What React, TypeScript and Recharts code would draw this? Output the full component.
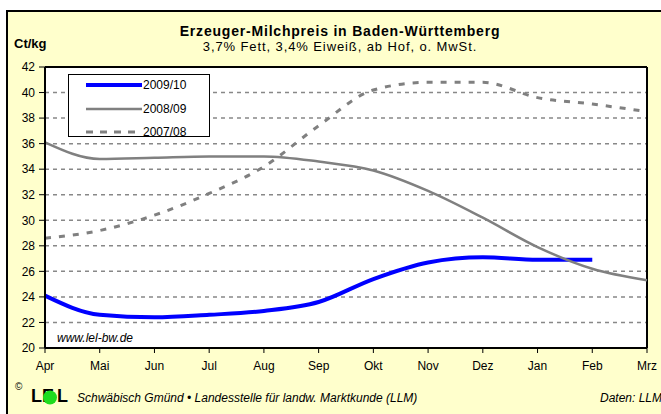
import React from "react";
import { LineChart, Line, XAxis, YAxis, CartesianGrid, ReferenceLine } from "recharts";

const months = ["Apr", "Mai", "Jun", "Jul", "Aug", "Sep", "Okt", "Nov", "Dez", "Jan", "Feb", "Mrz"];
const s2009_10 = [24.1, 22.6, 22.4, 22.6, 22.9, 23.6, 25.4, 26.7, 27.1, 26.9, 26.9, null];
const s2008_09 = [36.1, 34.8, 34.9, 35.0, 35.0, 34.6, 33.9, 32.3, 30.2, 27.9, 26.2, 25.3];
const s2007_08 = [28.6, 29.2, 30.4, 32.1, 34.2, 37.4, 40.2, 40.8, 40.8, 39.6, 39.1, 38.5];
const yTicks = [20, 22, 24, 26, 28, 30, 32, 34, 36, 38, 40, 42];

const data = months.map((m, i) => ({
  m,
  a: s2009_10[i],
  b: s2008_09[i],
  c: s2007_08[i],
}));

const series = [
  { key: "a", name: "2009/10", color: "#0000FF", width: 4, dash: undefined as string | undefined },
  { key: "b", name: "2008/09", color: "#808080", width: 2.5, dash: undefined as string | undefined },
  { key: "c", name: "2007/08", color: "#808080", width: 3, dash: "6 8" },
];

const FONT = "'Liberation Sans', Arial, sans-serif";

export default function App() {
  return (
    <div
      style={{
        position: "absolute",
        left: 0,
        top: 0,
        width: 661,
        height: 414,
        overflow: "hidden",
        background: "#fff",
        fontFamily: FONT,
      }}
    >
      <div
        style={{
          position: "absolute",
          left: 6,
          top: 10,
          width: 700,
          height: 500,
          border: "2px solid #000",
          background: "#FFFFCC",
        }}
      />
      <div style={{ position: "absolute", left: 0, top: 0 }}>
        <LineChart width={661} height={414} data={data} margin={{ top: 67, right: 14, bottom: 36, left: 0 }}>
          <CartesianGrid vertical={false} stroke="#888" strokeWidth={1.5} strokeDasharray="4 4" fill="#fff" />
          <XAxis
            dataKey="m"
            height={30}
            axisLine={{ stroke: "#000", strokeWidth: 2 }}
            tickLine={{ stroke: "#000", strokeWidth: 1 }}
            tickSize={5}
            tickMargin={8}
            tick={{ fill: "#000", fontSize: 12, fontFamily: FONT }}
            interval={0}
          />
          <YAxis
            width={45}
            domain={[20, 42]}
            ticks={yTicks}
            interval={0}
            axisLine={{ stroke: "#000", strokeWidth: 2 }}
            tickLine={{ stroke: "#000", strokeWidth: 1 }}
            tickSize={6}
            tickMargin={4}
            tick={{ fill: "#000", fontSize: 12, fontFamily: FONT }}
          />
          <ReferenceLine y={42} stroke="#000" strokeWidth={2} />
          <ReferenceLine x="Mrz" stroke="#000" strokeWidth={2} />
          {series.map((s) => (
            <Line
              key={s.key}
              dataKey={s.key}
              name={s.name}
              type="monotone"
              stroke={s.color}
              strokeWidth={s.width}
              strokeDasharray={s.dash}
              dot={false}
              activeDot={false}
              connectNulls={false}
              isAnimationActive={false}
            />
          ))}
        </LineChart>
      </div>

      {/* Legend */}
      <div
        style={{
          position: "absolute",
          left: 68,
          top: 74,
          width: 140,
          height: 61,
          border: "1px solid #000",
          background: "#fff",
        }}
      >
        {series.map((s, i) => (
          <div
            key={s.key}
            style={{ position: "absolute", left: 0, top: 1 + i * 23.5, height: 18, width: 140 }}
          >
            <svg width={60} height={18} style={{ position: "absolute", left: 16, top: 0 }}>
              <line
                x1={1}
                y1={9}
                x2={57}
                y2={9}
                stroke={s.color}
                strokeWidth={s.width}
                strokeDasharray={s.dash ? "7 7" : undefined}
              />
            </svg>
            <span
              style={{
                position: "absolute",
                left: 74,
                top: 1,
                fontSize: 12,
                lineHeight: "16px",
                color: "#000",
              }}
            >
              {s.name}
            </span>
          </div>
        ))}
      </div>

      {/* Titles */}
      <div
        style={{
          position: "absolute",
          left: 0,
          width: 680,
          top: 23,
          textAlign: "center",
          fontSize: 14,
          fontWeight: "bold",
          letterSpacing: 0.8,
          lineHeight: "16px",
          whiteSpace: "nowrap",
        }}
      >
        Erzeuger-Milchpreis in Baden-Württemberg
      </div>
      <div
        style={{
          position: "absolute",
          left: 0,
          width: 680,
          top: 40,
          textAlign: "center",
          fontSize: 13,
          letterSpacing: 0.9,
          lineHeight: "14px",
          whiteSpace: "nowrap",
        }}
      >
        3,7% Fett, 3,4% Eiweiß, ab Hof, o. MwSt.
      </div>
      <div style={{ position: "absolute", left: 14, top: 36, fontSize: 13, fontWeight: "bold", lineHeight: "16px" }}>
        Ct/kg
      </div>
      <div style={{ position: "absolute", left: 57, top: 331, fontSize: 12, fontStyle: "italic", lineHeight: "14px" }}>
        www.lel-bw.de
      </div>

      {/* Footer */}
      <div style={{ position: "absolute", left: 15, top: 382, fontSize: 10, lineHeight: "10px" }}>©</div>
      <div
        style={{
          position: "absolute",
          left: 31,
          top: 386,
          fontSize: 18,
          fontWeight: "bold",
          lineHeight: "20px",
          whiteSpace: "nowrap",
        }}
      >
        <span style={{ position: "absolute", left: 0, top: 0 }}>L</span>
        <span style={{ position: "absolute", left: 11, top: 0 }}>E</span>
        <span style={{ position: "absolute", left: 26, top: 0 }}>L</span>
      </div>
      <svg width={20} height={20} style={{ position: "absolute", left: 41, top: 388 }}>
        <circle cx={9} cy={9.5} r={7} fill="#1EDC1E" />
      </svg>
      <div
        style={{
          position: "absolute",
          left: 77,
          top: 391,
          fontSize: 12,
          fontStyle: "italic",
          lineHeight: "14px",
          whiteSpace: "nowrap",
        }}
      >
        Schwäbisch Gmünd • Landesstelle für landw. Marktkunde (LLM)
      </div>
      <div
        style={{
          position: "absolute",
          left: 600,
          top: 391,
          fontSize: 12,
          fontStyle: "italic",
          lineHeight: "14px",
          whiteSpace: "nowrap",
        }}
      >
        Daten: LLM
      </div>
    </div>
  );
}
